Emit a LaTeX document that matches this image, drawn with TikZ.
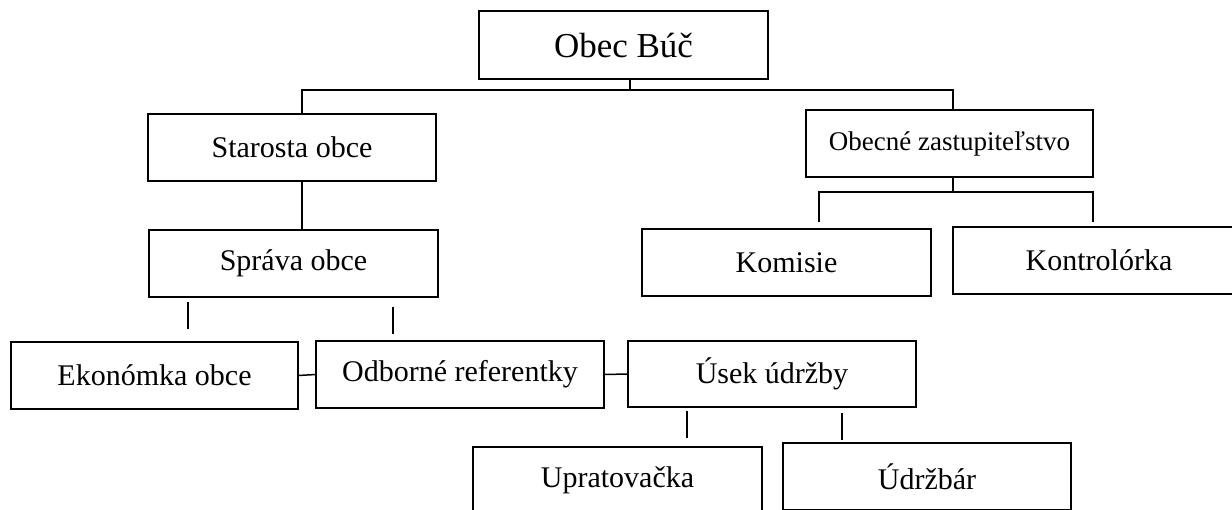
\documentclass[tikz,border=0pt]{standalone}
\usepackage{fontspec}
\setmainfont{Liberation Serif}
\begin{document}
\begin{tikzpicture}[x=1pt,y=1pt,
  box/.style={draw, line width=1.5pt, minimum width=288pt, minimum height=67pt, inner sep=0pt, outer sep=0pt, font=\fontsize{30}{36}\selectfont},
  conn/.style={line width=1.5pt}]
\useasboundingbox (0,0) rectangle (1232,-509);
\begin{scope}
\clip (0,0) rectangle (1232,-509);
% boxes
\node[box, minimum width=289pt, minimum height=68pt, font=\fontsize{35}{42}\selectfont] (obec) at (623.5,-45) {Obec Búč};
\node[box] (star) at (292,-147.5) {Starosta obce};
\node[box, minimum width=287pt, font=\fontsize{27}{32}\selectfont] (zast) at (949.5,-143.5) {\raisebox{3pt}{Obecné zastupiteľstvo}};
\node[box, minimum width=289pt] (sprava) at (293.5,-263.5) {Správa obce};
\node[box, minimum width=289pt] (komisie) at (786.5,-262.5) {Komisie};
\node[box, minimum width=292pt] (kontrol) at (1099,-260.5) {Kontrolórka};
\node[box, minimum width=287pt] (ekon) at (154.5,-375.5) {Ekonómka obce};
\node[box] (odb) at (460,-374.5) {Odborné referentky};
\node[box, minimum height=66pt] (usek) at (772,-374) {Úsek údržby};
\node[box, minimum width=289pt] (uprat) at (617.5,-480.5) {\raisebox{3pt}{Upratovačka}};
\node[box] (udrz) at (927,-476.5) {Údržbár};
% junctions and free ends
\coordinate (j1) at (630,-90);
\coordinate (j2) at (953,-192);
\coordinate (k1) at (819,-222);
\coordinate (k2) at (1093,-222);
\coordinate (s1a) at (188,-302); \coordinate (s1b) at (188,-329);
\coordinate (s2a) at (393,-307); \coordinate (s2b) at (393,-334);
\coordinate (s3a) at (687,-411); \coordinate (s3b) at (687,-438);
\coordinate (s4a) at (842,-413); \coordinate (s4b) at (842,-440);
% connectors
\draw[conn] (obec.south -| j1) -- (j1);
\draw[conn] ([xshift=10pt]star.north) |- (j1) -| ([xshift=3.5pt]zast.north);
\draw[conn] ([xshift=10pt]star.south) -- ([xshift=10pt]star.south |- sprava.north);
\draw[conn] ([xshift=3.5pt]zast.south) -- (j2);
\draw[conn] (k1) |- (j2) -| (k2);
\draw[conn] (s1a) -- (s1b);
\draw[conn] (s2a) -- (s2b);
\draw[conn] (s3a) -- (s3b);
\draw[conn] (s4a) -- (s4b);
\draw[conn] (ekon.east) -- (odb.west);
\draw[conn] (odb.east) -- (usek.west);
\end{scope}
\end{tikzpicture}
\end{document}
